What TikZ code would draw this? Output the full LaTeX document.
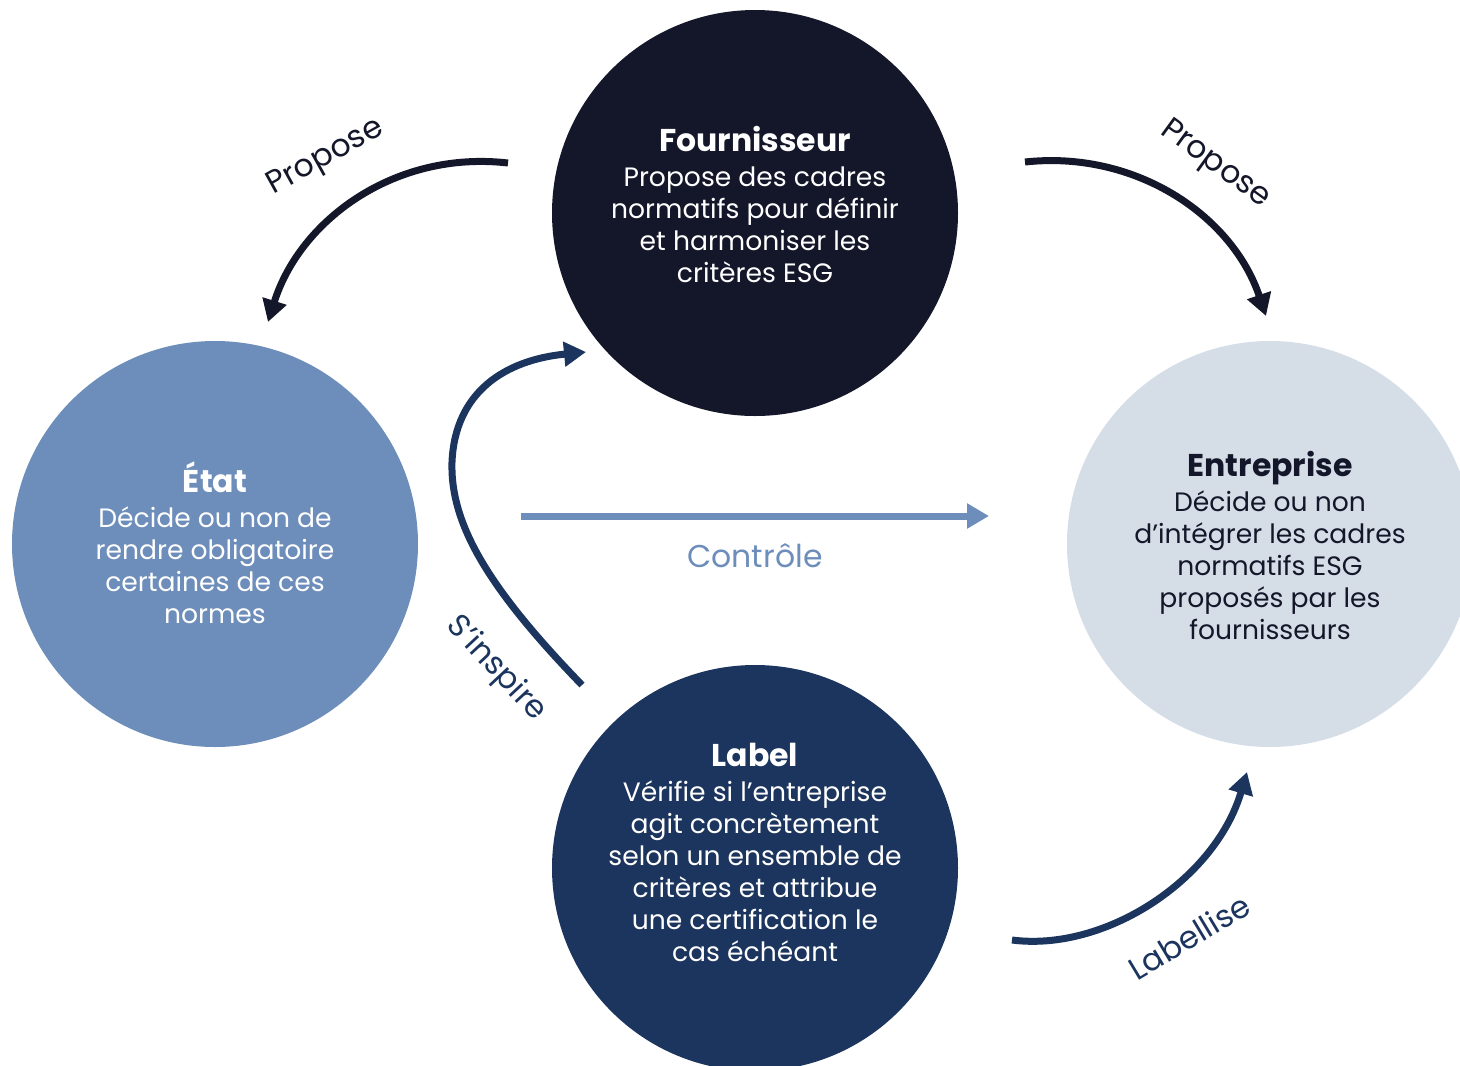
\documentclass[tikz,border=0pt]{standalone}
\usepackage{fontspec}
\setmainfont{Poppins}
\usetikzlibrary{arrows.meta}
\definecolor{navy}{HTML}{141729}
\definecolor{blue}{HTML}{1C355E}
\definecolor{mid}{HTML}{6D8DBA}
\definecolor{pale}{HTML}{D5DDE7}
\tikzset{
  circ/.style={circle, draw=none, inner sep=0pt, minimum size=406pt},
  txt/.style={align=center, inner sep=0pt, font=\fontsize{26.6}{32}\selectfont},
  lab/.style={inner sep=0pt, font=\fontsize{31.5}{34}\selectfont},
  arr/.style={line width=7pt, -{Triangle[length=22pt,width=24pt]}},
}
\newcommand{\ttl}[1]{{\fontsize{31.5}{32}\selectfont\bfseries #1}\\[3pt]}
\begin{document}
\begin{tikzpicture}[x=1pt,y=-1pt]
\useasboundingbox (0,0) rectangle (1460,1066);
\clip (0,0) rectangle (1460,1066);
% circles
\node[circ, fill=navy] (four) at (755,213) {};
\node[circ, fill=mid] (etat) at (215,544) {};
\node[circ, fill=pale] (entr) at (1270,544) {};
\node[circ, fill=blue] (label) at (755,868) {};
% texts
\node[txt, text=white] (fourT) at (755,204) {\ttl{Fournisseur}Propose des cadres\\normatifs pour définir\\et harmoniser les\\critères ESG};
\node[txt, text=white] (etatT) at (215,543) {\ttl{État}Décide ou non de\\rendre obligatoire\\certaines de ces\\normes};
\node[txt, text=navy] (entrT) at (1270,545) {\ttl{Entreprise}Décide ou non\\d’intégrer les cadres\\normatifs ESG\\proposés par les\\fournisseurs};
\node[txt, text=white] (labelT) at (755,852) {\ttl{Label}Vérifie si l’entreprise\\agit concrètement\\selon un ensemble de\\critères et attribue\\une certification le\\cas échéant};
% connector end points
\coordinate (a1s) at (508,163);
\coordinate (a1e) at (268,322);
\coordinate (a2s) at (1025,162);
\coordinate (a2e) at (1266,316);
\coordinate (a3s) at (582,685);
\coordinate (a3m) at (452,462);
\coordinate (a3e) at (586,352);
\coordinate (a4s) at (521,516);
\coordinate (a4e) at (989,516);
\coordinate (a5s) at (1012,940);
\coordinate (a5e) at (1247,772);
% arrows
\draw[arr, navy] (a1s) .. controls (395,150) and (300,220) .. (a1e);
\draw[arr, navy] (a2s) .. controls (1135,150) and (1232,215) .. (a2e);
\draw[arr, blue] (a3s) .. controls (490,590) and (450,525) .. (a3m) .. controls (455,392) and (505,360) .. (a3e);
\draw[arr, mid] (a4s) -- (a4e);
\draw[arr, blue] (a5s) .. controls (1105,952) and (1215,880) .. (a5e);
% labels
\node[lab, text=navy, rotate=29] (l1) at (326,158) {Propose};
\node[lab, text=navy, rotate=-36] (l2) at (1215,165) {Propose};
\node[lab, text=blue, rotate=-47] (l3) at (496,669) {S’inspire};
\node[lab, text=mid] (l4) at (755,556) {Contrôle};
\node[lab, text=blue, rotate=31] (l5) at (1189,937) {Labellise};
\end{tikzpicture}
\end{document}
